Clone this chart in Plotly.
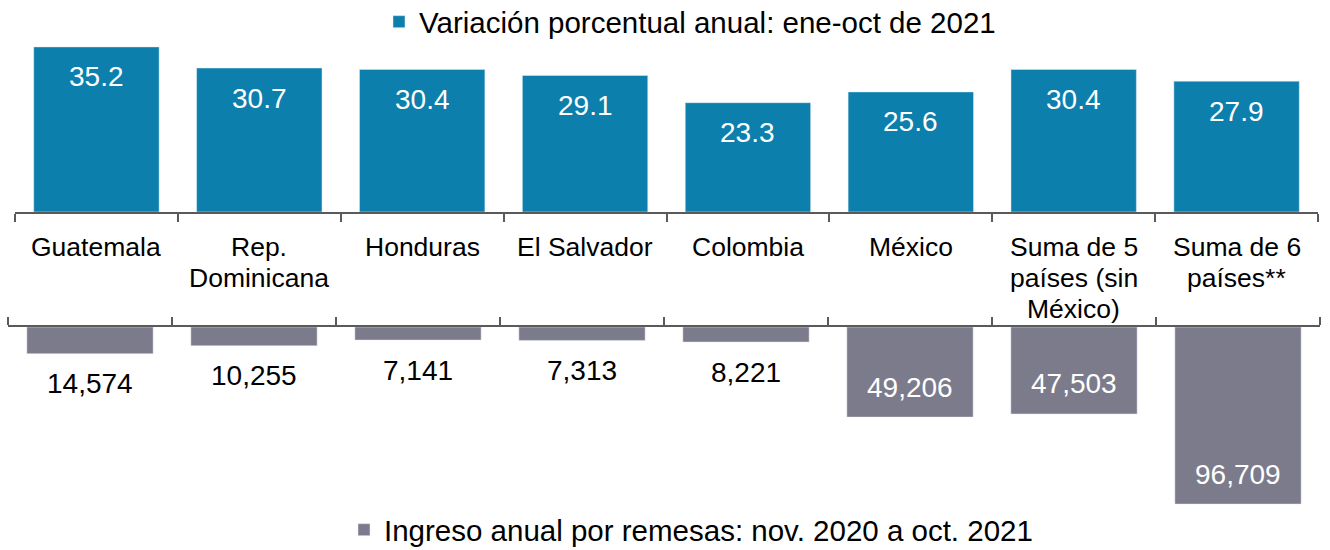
import plotly.graph_objects as go

# datos
paises = ["Guatemala", "Rep.<br>Dominicana", "Honduras", "El Salvador", "Colombia",
          "México", "Suma de 5<br>países (sin<br>México)", "Suma de 6<br>países**"]
variacion = [35.2, 30.7, 30.4, 29.1, 23.3, 25.6, 30.4, 27.9]
ingreso = [14574, 10255, 7141, 7313, 8221, 49206, 47503, 96709]

nombre_var = "Variación porcentual anual: ene-oct de 2021"
nombre_ing = "Ingreso anual por remesas: nov. 2020 a oct. 2021"

AZUL = "#0D7FAC"
GRIS = "#7C7B8B"
EJE = "#5A5A5A"
FUENTE = "Liberation Sans, Arial, sans-serif"
W, H = 1330, 550

def px_x(sx):
    return sx / W

def px_y(sy):
    return 1 - sy / H

fig = go.Figure()
fig.add_trace(go.Bar(x=paises, y=variacion, name=nombre_var, marker_color=AZUL,
                     xaxis="x", yaxis="y", legend="legend", showlegend=True, hoverinfo="y"))
fig.add_trace(go.Bar(x=paises, y=ingreso, name=nombre_ing, marker_color=GRIS,
                     xaxis="x2", yaxis="y2", legend="legend2", showlegend=True, hoverinfo="y"))

anotaciones = []
# valores de las barras
for p, v in zip(paises, variacion):
    anotaciones.append(dict(x=p, y=v, xref="x", yref="y", text=f"{v:.1f}", showarrow=False,
                            yshift=-30, font=dict(color="white", size=28, family=FUENTE)))
for p, v in zip(paises, ingreso):
    dentro = v > 20000
    anotaciones.append(dict(x=p, y=v, xref="x2", yref="y2", text=f"{v:,}", showarrow=False,
                            yshift=30 if dentro else -30,
                            font=dict(color="white" if dentro else "black", size=28, family=FUENTE)))
# nombres de categorias entre los dos ejes, una linea por anotacion
for p in paises:
    for i, linea in enumerate(p.split("<br>")):
        anotaciones.append(dict(x=p, xref="x", y=px_y(247 + 31 * i), yref="paper", text=linea,
                                showarrow=False, yanchor="middle",
                                font=dict(color="black", size=26.5, family=FUENTE)))

eje_x = dict(type="category", tickson="boundaries", showline=True, linecolor=EJE, linewidth=1.5,
             ticks="outside", ticklen=8, tickwidth=1.5, tickcolor=EJE, showgrid=False,
             zeroline=False, range=[-0.5, 7.5], fixedrange=True, showticklabels=False)

fig.update_layout(
    width=W, height=H,
    margin=dict(l=0, r=0, t=0, b=0, autoexpand=False),
    plot_bgcolor="white", paper_bgcolor="white",
    font=dict(family=FUENTE, size=26, color="black"),
    bargap=0.23,
    showlegend=True,
    xaxis=dict(eje_x, domain=[px_x(15), px_x(1318)], anchor="y", side="bottom"),
    xaxis2=dict(eje_x, domain=[px_x(8), px_x(1320)], anchor="y2", side="top"),
    yaxis=dict(domain=[px_y(212), px_y(40)], range=[0, 36.67], visible=False, fixedrange=True),
    yaxis2=dict(domain=[px_y(510), px_y(327)], range=[99950, 0], visible=False, fixedrange=True),
    legend=dict(x=px_x(398 - 19), xanchor="left", y=px_y(22), yanchor="middle", orientation="h",
                font=dict(size=29.5, color="black"), bgcolor="rgba(0,0,0,0)"),
    legend2=dict(x=px_x(363 - 19), xanchor="left", y=px_y(530), yanchor="middle", orientation="h",
                 font=dict(size=29.5, color="black"), bgcolor="rgba(0,0,0,0)"),
    annotations=anotaciones,
)

# quitar el margen por defecto del body para que la figura ocupe toda la ventana
fig.write_html("out.html", config={"displayModeBar": False},
               post_script="document.body.style.margin='0';")
